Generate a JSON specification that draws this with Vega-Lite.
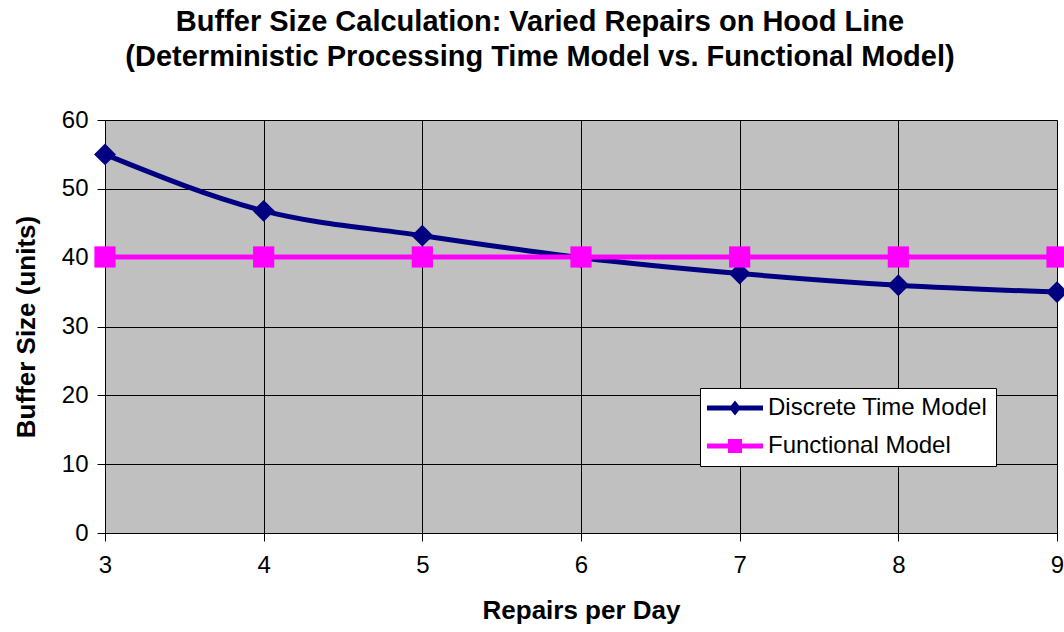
{
  "$schema": "https://vega.github.io/schema/vega-lite/v6.json",
  "autosize": "none",
  "width": 952,
  "height": 413,
  "padding": {"left": 105, "top": 120, "right": 7, "bottom": 99},
  "background": "white",
  "config": {
    "font": "Liberation Sans",
    "view": {"fill": "#C0C0C0", "stroke": "#808080", "strokeWidth": 1}
  },
  "title": {
    "text": ["Buffer Size Calculation: Varied Repairs on Hood Line", "(Deterministic Processing Time Model vs. Functional Model)"],
    "font": "Liberation Sans",
    "fontSize": 29,
    "fontWeight": "bold",
    "lineHeight": 35,
    "color": "black",
    "anchor": "middle",
    "frame": "group",
    "dx": -41,
    "offset": 36
  },
  "data": {
    "values": [
      {"repairs": 3, "buffer": 55, "series": "Discrete Time Model"},
      {"repairs": 4, "buffer": 46.8, "series": "Discrete Time Model"},
      {"repairs": 5, "buffer": 43.2, "series": "Discrete Time Model"},
      {"repairs": 6, "buffer": 40, "series": "Discrete Time Model"},
      {"repairs": 7, "buffer": 37.7, "series": "Discrete Time Model"},
      {"repairs": 8, "buffer": 36, "series": "Discrete Time Model"},
      {"repairs": 9, "buffer": 35, "series": "Discrete Time Model"},
      {"repairs": 3, "buffer": 40.1, "series": "Functional Model"},
      {"repairs": 4, "buffer": 40.1, "series": "Functional Model"},
      {"repairs": 5, "buffer": 40.1, "series": "Functional Model"},
      {"repairs": 6, "buffer": 40.1, "series": "Functional Model"},
      {"repairs": 7, "buffer": 40.1, "series": "Functional Model"},
      {"repairs": 8, "buffer": 40.1, "series": "Functional Model"},
      {"repairs": 9, "buffer": 40.1, "series": "Functional Model"}
    ]
  },
  "encoding": {
    "x": {
      "field": "repairs",
      "type": "quantitative",
      "scale": {"domain": [3, 9], "nice": false, "zero": false},
      "axis": {
        "title": "Repairs per Day",
        "values": [3, 4, 5, 6, 7, 8, 9],
        "format": "d",
        "labelFontSize": 24,
        "labelColor": "black",
        "labelPadding": 12,
        "tickSize": 8,
        "tickColor": "black",
        "domainColor": "black",
        "gridColor": "black",
        "gridOpacity": 1,
        "titleFontSize": 26,
        "titleFontWeight": "bold",
        "titleColor": "black",
        "titlePadding": 20,
        "labelFlush": false
      }
    },
    "y": {
      "field": "buffer",
      "type": "quantitative",
      "scale": {"domain": [0, 60], "nice": false},
      "axis": {
        "title": "Buffer Size (units)",
        "values": [0, 10, 20, 30, 40, 50, 60],
        "labelFontSize": 24,
        "labelColor": "black",
        "labelPadding": 9,
        "tickSize": 8,
        "tickColor": "black",
        "domainColor": "black",
        "gridColor": "black",
        "gridOpacity": 1,
        "titleFontSize": 26,
        "titleFontWeight": "bold",
        "titleColor": "black",
        "titlePadding": 22
      }
    },
    "color": {
      "field": "series",
      "type": "nominal",
      "scale": {"domain": ["Discrete Time Model", "Functional Model"], "range": ["#000080", "#FF00FF"]},
      "legend": {
        "title": null,
        "orient": "none",
        "legendX": 595,
        "legendY": 268,
        "fillColor": "white",
        "strokeColor": "black",
        "padding": 8,
        "rowPadding": 14,
        "labelFontSize": 24,
        "labelColor": "black",
        "labelLimit": 0,
        "symbolSize": 100,
        "encode": {
          "symbols": {
            "update": {
              "shape": {"signal": "datum.value === 'Discrete Time Model' ? 'M-5.6,-0.5H5.6V0.5H-5.6Z M0,-1.5L1.2,0L0,1.5L-1.2,0Z' : 'M-5.6,-0.5H5.6V0.5H-5.6Z M-1.4,-1.4H1.4V1.4H-1.4Z'"},
              "fill": {"signal": "datum.value === 'Discrete Time Model' ? '#000080' : '#FF00FF'"},
              "fillOpacity": {"value": 1},
              "strokeWidth": {"value": 0},
              "x": {"value": 27}
            }
          },
          "labels": {
            "update": {"x": {"value": 60}}
          }
        }
      }
    }
  },
  "layer": [
    {
      "mark": {"type": "line", "strokeWidth": 5, "interpolate": "monotone"}
    },
    {
      "transform": [{"filter": "datum.series === 'Discrete Time Model'"}],
      "mark": {"type": "point", "shape": "diamond", "filled": true, "opacity": 1, "size": 480}
    },
    {
      "transform": [{"filter": "datum.series === 'Functional Model'"}],
      "mark": {"type": "point", "shape": "square", "filled": true, "opacity": 1, "size": 450}
    }
  ]
}
